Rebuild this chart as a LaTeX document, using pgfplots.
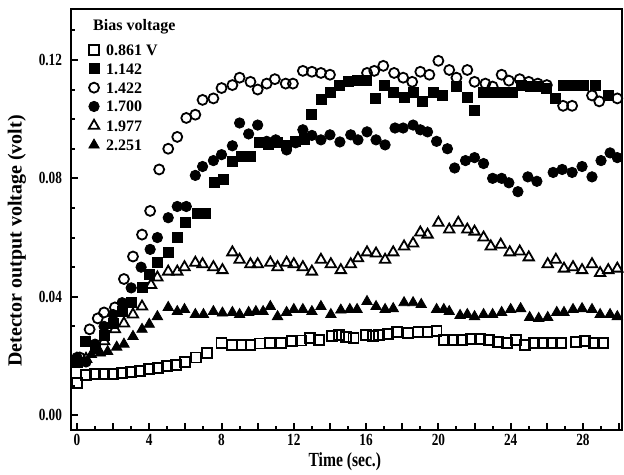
\documentclass[border=0pt]{standalone}
\usepackage{fontspec}
\setmainfont{Liberation Serif}
\usepackage{pgfplots}
\pgfplotsset{compat=1.18}
\usetikzlibrary{calc}

\tikzset{
  openmk/.style={only marks, mark options={line width=1.8pt, draw=black, fill=white}},
  fullmk/.style={only marks, mark options={line width=0.8pt, draw=black, fill=black}}
}

\begin{document}
\begin{tikzpicture}
\begin{axis}[name=ax, scale only axis, width=551pt, height=421pt,
  xmin=-0.33, xmax=30.16, ymin=-0.005, ymax=0.1372,
  axis line style={line width=2.4pt},
  xtick={0,2,...,30}, xticklabels={0,,4,,8,,12,,16,,20,,24,,28,},
  minor xtick={1,3,...,29},
  ytick={0,0.04,0.08,0.12}, yticklabels={0.00,0.04,0.08,0.12},
  minor ytick={0.01,0.02,0.03,0.05,0.06,0.07,0.09,0.10,0.11,0.13},
  tick pos=left, tick align=inside,
  major tick length=7pt, minor tick length=4.5pt,
  every tick/.append style={black, line width=2pt},
  tick label style={font=\fontsize{17}{17}\selectfont\bfseries, xscale=0.78},
  yticklabel style={xshift=-8pt},
  xticklabel style={yshift=-1pt},
  xlabel={Time (sec.)}, ylabel={Detector output voltage (volt)},
  xlabel style={font=\fontsize{20}{20}\selectfont\bfseries, xscale=0.78, at={(axis description cs:0.497,-0.076)}, anchor=center},
  ylabel style={font=\fontsize{20}{20}\selectfont\bfseries, at={(axis description cs:-0.098,0.449)}, anchor=center},
  legend style={draw=none, fill=none, at={(0.032,0.916)}, anchor=north west,
    font=\fontsize{16}{16}\selectfont\bfseries, inner sep=0pt,
    nodes={inner sep=0pt, text height=11pt, text depth=0pt}, row sep=7.8pt, column sep=7pt},
  legend cell align=left
]
% 0.861 V
\addplot[openmk, mark=square, mark size=5pt] coordinates {
(0,0.011) (0.5,0.0135) (1.0,0.0138) (1.5,0.0138) (2.0,0.014) (2.5,0.0142) (3.0,0.0145) (3.5,0.015) (4.0,0.0155) (4.5,0.016) (5.0,0.0165) (5.5,0.017) (6.0,0.018) (6.6,0.0195) (7.2,0.021) (8.0,0.0245) (8.6,0.0238) (9.1,0.0238) (9.6,0.0238) (10.1,0.0242) (10.7,0.0245) (11.3,0.0245) (11.9,0.025) (12.4,0.0252) (12.9,0.0262) (13.4,0.0255) (14.1,0.0268) (14.5,0.0272) (14.9,0.0265) (15.3,0.0262) (16.0,0.0272) (16.4,0.0268) (16.7,0.0272) (17.2,0.0275) (17.7,0.0282) (18.3,0.0278) (18.9,0.0282) (19.4,0.028) (19.9,0.0285) (20.3,0.0255) (20.8,0.0255) (21.3,0.0255) (21.8,0.0258) (22.3,0.0258) (22.8,0.0255) (23.3,0.0248) (23.8,0.0245) (24.3,0.0255) (24.8,0.0238) (25.3,0.0245) (25.8,0.0245) (26.3,0.0245) (26.8,0.0245) (27.6,0.0248) (28.1,0.025) (28.6,0.0245) (29.1,0.0245)};
\addlegendentry{0.861 V}
% 1.142
\addplot[fullmk, mark=square*, mark size=5pt] coordinates {
(0,0.018) (0.45,0.025) (1.0,0.023) (1.5,0.027) (2.0,0.031) (2.5,0.035) (3.0,0.038) (3.6,0.043) (4.0,0.0475) (4.45,0.0515) (5.05,0.055) (5.55,0.060) (6.0,0.065) (6.65,0.068) (7.1,0.068) (7.6,0.0785) (8.1,0.0795) (8.6,0.0856) (9.1,0.0873) (9.6,0.0873) (10.1,0.0923) (10.6,0.0915) (11.1,0.0923) (11.6,0.091) (12.1,0.0925) (12.6,0.093) (13.0,0.1015) (13.5,0.1065) (14.0,0.109) (14.5,0.1115) (15.0,0.1126) (15.5,0.113) (16.0,0.113) (16.5,0.107) (17.0,0.1115) (17.5,0.109) (18.1,0.1075) (18.6,0.109) (19.1,0.106) (19.7,0.109) (20.2,0.108) (21.0,0.111) (21.6,0.1075) (22.0,0.1028) (22.5,0.109) (23.0,0.109) (23.5,0.109) (24.1,0.109) (24.6,0.1115) (25.1,0.111) (25.5,0.111) (26.0,0.1105) (26.5,0.107) (26.9,0.1115) (27.4,0.1115) (28.0,0.1115) (28.7,0.1115) (29.4,0.108)};
\addlegendentry{1.142}
% 1.422
\addplot[openmk, mark=o, mark size=5pt] coordinates {
(0.15,0.0195) (0.7,0.029) (1.15,0.0327) (1.5,0.0347) (2.1,0.0364) (2.6,0.046) (3.1,0.0536) (3.6,0.061) (4.05,0.069) (4.55,0.083) (5.05,0.090) (5.55,0.094) (6.05,0.1004) (6.55,0.1015) (6.95,0.1065) (7.55,0.107) (8.0,0.1105) (8.6,0.1115) (9.0,0.114) (9.6,0.1126) (10.0,0.110) (10.5,0.112) (10.95,0.1135) (11.55,0.112) (11.95,0.112) (12.5,0.1163) (13.0,0.116) (13.5,0.1156) (14.0,0.115) (16.05,0.1156) (16.45,0.1163) (16.95,0.118) (17.55,0.1156) (18.05,0.114) (18.55,0.1126) (19.0,0.116) (19.5,0.115) (20.0,0.1197) (20.6,0.1166) (21.0,0.114) (21.6,0.1166) (22.0,0.1126) (22.6,0.112) (23.0,0.111) (23.5,0.115) (23.9,0.113) (24.5,0.1135) (25.0,0.1126) (25.5,0.112) (26.0,0.1115) (26.9,0.1045) (27.4,0.1045) (28.5,0.108) (28.9,0.106) (29.9,0.107)};
\addlegendentry{1.422}
% 1.700
\addplot[fullmk, mark=*, mark size=5.2pt] coordinates {
(0,0.0195) (0.5,0.018) (1.0,0.024) (1.5,0.03) (2.0,0.034) (2.5,0.038) (3.0,0.043) (3.55,0.05) (4.05,0.056) (4.45,0.060) (5.05,0.0667) (5.55,0.0705) (6.05,0.0705) (6.55,0.081) (6.95,0.084) (7.55,0.086) (8.0,0.088) (8.6,0.091) (9.0,0.0987) (9.5,0.095) (10.0,0.098) (10.5,0.0925) (11.0,0.093) (11.6,0.0896) (12.1,0.092) (12.5,0.0964) (13.0,0.0945) (13.5,0.093) (14.0,0.0947) (14.55,0.0923) (15.15,0.0947) (15.55,0.093) (16.05,0.0957) (16.55,0.093) (17.05,0.0913) (17.6,0.097) (18.05,0.097) (18.6,0.098) (19.0,0.0964) (19.4,0.0957) (19.9,0.0925) (20.5,0.090) (20.9,0.0835) (21.5,0.086) (22.0,0.087) (22.5,0.085) (23.0,0.080) (23.5,0.080) (23.9,0.0785) (24.4,0.0755) (24.95,0.0805) (25.45,0.079) (26.35,0.082) (26.85,0.083) (27.4,0.082) (27.95,0.084) (28.5,0.0805) (29.0,0.086) (29.5,0.0886) (29.9,0.087)};
\addlegendentry{1.700}
% 1.977
\addplot[openmk, mark=triangle, mark size=6pt] coordinates {
(0,0.019) (0.5,0.019) (1.0,0.022) (1.5,0.025) (2.1,0.029) (2.6,0.031) (3.1,0.034) (3.6,0.0367) (4.1,0.044) (4.45,0.0465) (5.05,0.0485) (5.55,0.0485) (5.95,0.050) (6.55,0.0515) (6.95,0.051) (7.55,0.050) (8.05,0.049) (8.6,0.055) (9.0,0.0525) (9.6,0.051) (10.0,0.051) (10.7,0.0515) (11.1,0.050) (11.6,0.0515) (12.0,0.051) (12.5,0.050) (13.0,0.0485) (13.5,0.0525) (14.05,0.051) (14.6,0.049) (15.15,0.051) (15.55,0.053) (16.05,0.055) (16.55,0.0546) (17.05,0.0525) (17.5,0.055) (18.1,0.057) (18.6,0.058) (19.0,0.0617) (19.4,0.061) (20.0,0.065) (20.6,0.0627) (21.1,0.065) (21.6,0.0627) (22.0,0.062) (22.5,0.060) (22.9,0.057) (23.45,0.0576) (23.95,0.055) (24.5,0.0553) (25.0,0.0533) (26.05,0.051) (26.5,0.0525) (26.95,0.0495) (27.45,0.050) (27.95,0.049) (28.5,0.051) (28.95,0.048) (29.4,0.049) (29.9,0.0495)};
\addlegendentry{1.977}
% 2.251
\addplot[fullmk, mark=triangle*, mark size=6pt] coordinates {
(0,0.019) (0.4,0.018) (0.8,0.0205) (1.3,0.021) (1.7,0.0215) (2.2,0.023) (2.6,0.024) (3.1,0.0266) (3.6,0.029) (4.0,0.0307) (4.45,0.0333) (5.05,0.0364) (5.55,0.035) (5.95,0.0357) (6.55,0.034) (7.0,0.034) (7.55,0.035) (8.05,0.0345) (8.6,0.0347) (9.0,0.034) (9.5,0.0347) (9.9,0.035) (10.3,0.035) (10.7,0.0367) (11.1,0.0333) (11.6,0.0347) (12.0,0.0357) (12.5,0.0357) (13.0,0.035) (13.5,0.0367) (14.05,0.034) (14.6,0.0355) (15.1,0.0357) (15.5,0.0357) (16.05,0.0384) (16.55,0.0367) (17.05,0.0357) (17.5,0.036) (18.1,0.038) (18.6,0.038) (19.05,0.0374) (19.9,0.0357) (20.3,0.0357) (20.6,0.035) (21.2,0.0337) (21.6,0.034) (22.0,0.0333) (22.5,0.034) (23.0,0.034) (23.5,0.0347) (24.0,0.0357) (24.55,0.036) (25.05,0.033) (25.55,0.0327) (26.05,0.033) (26.55,0.0347) (26.95,0.0347) (27.45,0.0357) (27.95,0.036) (28.5,0.0357) (28.95,0.034) (29.5,0.034) (29.9,0.0333)};
\addlegendentry{2.251}
\node[anchor=west, font=\fontsize{16}{16}\selectfont\bfseries, inner sep=0pt] at (rel axis cs:0.04,0.957) {Bias voltage};
\end{axis}
\path ($(ax.south west)+(-71pt,-43pt)$) rectangle ($(ax.north east)+(2pt,9pt)$);
\end{tikzpicture}
\end{document}
